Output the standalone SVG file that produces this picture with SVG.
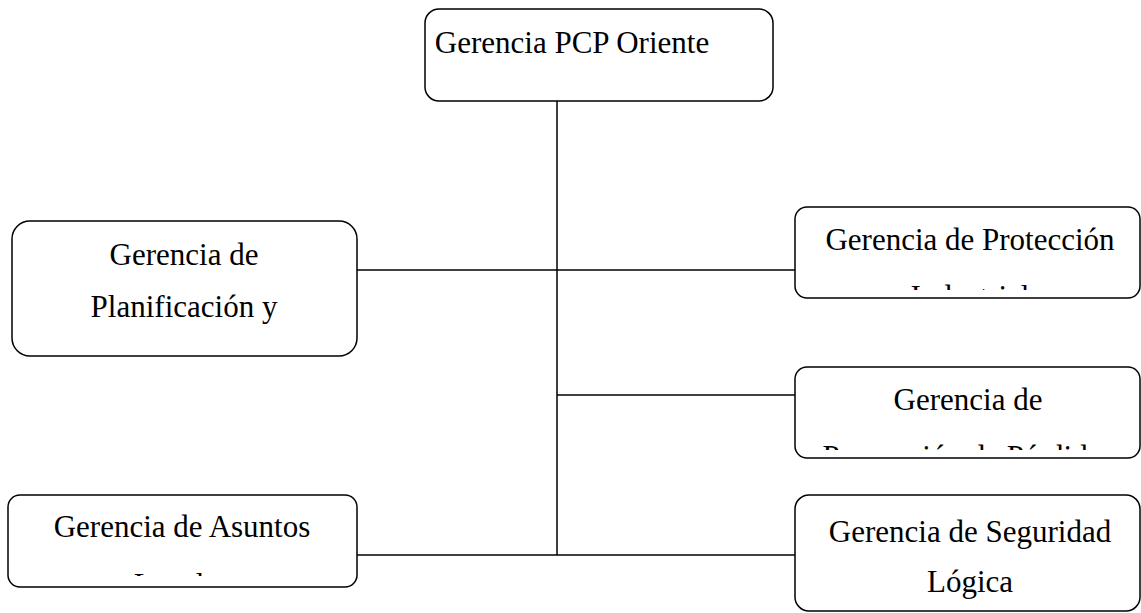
<svg xmlns="http://www.w3.org/2000/svg" width="1141" height="613" viewBox="0 0 1141 613">
<style>
.box{fill:#fff;stroke:#000;stroke-width:1.5}
.t{font-family:'Liberation Serif','Tinos','DejaVu Serif',serif;font-size:31px;fill:#000;text-anchor:middle}
.c{stroke:#000;stroke-width:1.5;fill:none}
</style>
<defs>
<clipPath id="cp1"><rect x="800" y="212" width="335" height="78"/></clipPath>
<clipPath id="cp2"><rect x="800" y="372" width="335" height="78"/></clipPath>
<clipPath id="cp3"><rect x="13" y="500" width="339" height="76"/></clipPath>
</defs>
<rect width="1141" height="613" fill="#fff"/>
<g id="connectors">
<path class="c" d="M557 101V555"/>
<path class="c" d="M357 270H795"/>
<path class="c" d="M557 395H795"/>
<path class="c" d="M357 555H795"/>
</g>
<g id="n-top"><rect class="box" x="425" y="9" width="348" height="92" rx="14"/><text class="t" x="572" y="53">Gerencia PCP Oriente</text></g>
<g id="n-plan"><rect class="box" x="12" y="221" width="345" height="135" rx="18"/><text class="t" x="184" y="265">Gerencia de</text><text class="t" x="184" y="317">Planificación y</text></g>
<g id="n-prot"><rect class="box" x="795" y="207" width="345" height="91" rx="12"/><text class="t" x="970" y="250">Gerencia de Protección</text><g clip-path="url(#cp1)"><text class="t" x="970" y="307">Industrial</text></g></g>
<g id="n-prev"><rect class="box" x="795" y="367" width="345" height="91" rx="12"/><text class="t" x="968" y="410">Gerencia de</text><g clip-path="url(#cp2)"><text class="t" x="968" y="467">Prevención de Pérdidas</text></g></g>
<g id="n-legal"><rect class="box" x="8" y="495" width="349" height="92" rx="12"/><text class="t" x="182" y="537">Gerencia de Asuntos</text><g clip-path="url(#cp3)"><text class="t" x="182" y="595">Legales</text></g></g>
<g id="n-seg"><rect class="box" x="795" y="495" width="345" height="116" rx="14"/><text class="t" x="970" y="542">Gerencia de Seguridad</text><text class="t" x="970" y="592">Lógica</text></g>
</svg>
